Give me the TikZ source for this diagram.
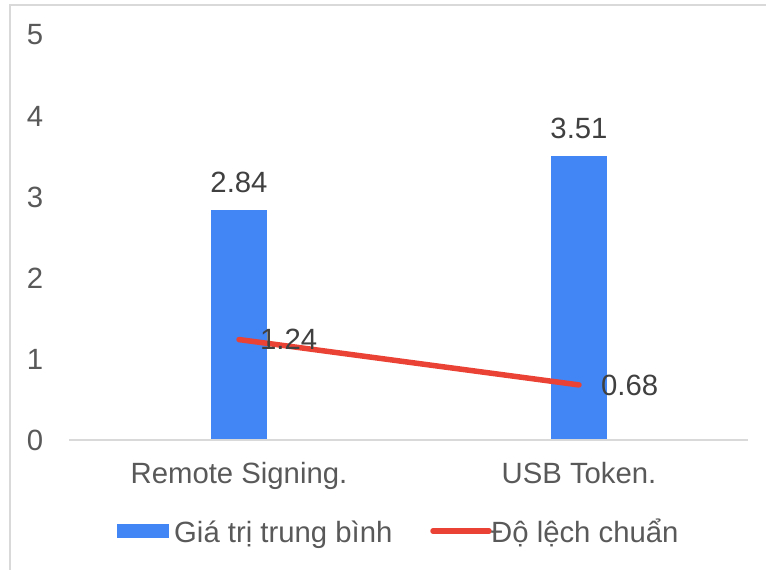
\documentclass[tikz,border=0pt]{standalone}
\usepackage{fontspec}
\setmainfont{Liberation Sans}
\usetikzlibrary{calc,positioning}
\definecolor{barblue}{HTML}{4285F4}
\definecolor{linered}{HTML}{EA4335}
\definecolor{framegray}{HTML}{D9D9D9}
\definecolor{axistext}{HTML}{595959}
\definecolor{datatext}{HTML}{404040}

\begin{document}
\begin{tikzpicture}[x=1pt,y=-1pt,every node/.style={font=\fontsize{29.3}{35}\selectfont,inner sep=0pt},
  ticklbl/.style={text=axistext},datalbl/.style={text=datatext},
  redline/.style={linered,line width=5.5pt,line cap=round}]
     \useasboundingbox (0,0) rectangle (766,570);
     \begin{scope}
     \clip (0,0) rectangle (766,570);
     \draw[framegray,line width=2pt] (10,5) rectangle (790,600);
     \end{scope}
     % y axis labels
     \foreach \v in {0,...,5}
        \node[ticklbl] (y\v) at (35,{440-81*\v}) {\v};
     % bars
     \fill[barblue] (211,440) rectangle (267,{440-2.84*81});
     \fill[barblue] (551,440) rectangle (607,{440-3.51*81});
     \coordinate (ax0) at (69,440);
     \coordinate (ax1) at (748,440);
     \draw[framegray,line width=2pt] (ax0)--(ax1);
     \node[datalbl] (mean1) at (239,182) {2.84};
     \node[datalbl] (mean2) at (579,128) {3.51};
     % std dev line
     \coordinate (sd1) at (239,{440-1.24*81});
     \coordinate (sd2) at (579,{440-0.68*81});
     \draw[redline] (sd1)--(sd2);
     \node[datalbl,right=21 of sd1] (sdl1) {1.24};
     \node[datalbl,right=22 of sd2] (sdl2) {0.68};
     % categories
     \node[ticklbl,anchor=base] (cat1) at (239,483) {Remote Signing.};
     \node[ticklbl,anchor=base] (cat2) at (579,483) {USB Token.};
     % legend
     \node[fill=barblue,minimum width=52,minimum height=14] (lg1) at (143,531) {};
     \node[ticklbl,anchor=base west] (lgt1) at (174,542) {Giá trị trung bình};
     \coordinate (lg2a) at (433,531);
     \coordinate (lg2b) at (489,531);
     \draw[redline] (lg2a)--(lg2b);
     \node[ticklbl,anchor=base west] (lgt2) at (491,542) {Độ lệch chuẩn};
\end{tikzpicture}
\end{document}
